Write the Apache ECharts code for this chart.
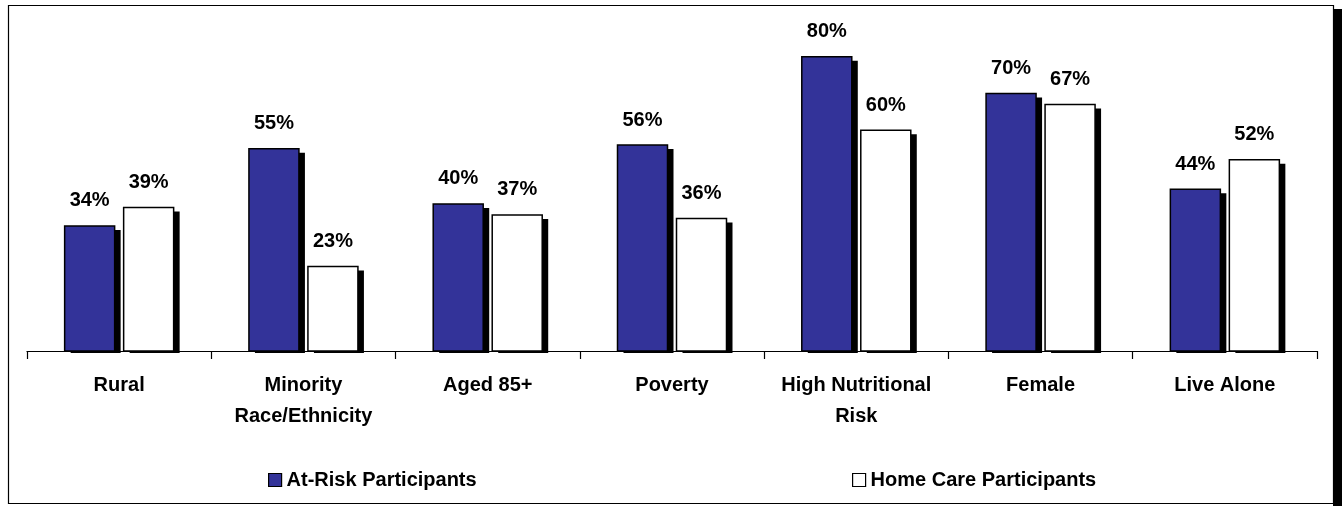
<!DOCTYPE html>
<html>
<head>
<meta charset="utf-8">
<script src="https://cdn.jsdelivr.net/npm/echarts@6/dist/echarts.min.js"></script>
<style>
html,body{margin:0;padding:0;background:#fff;}
#chart{width:1342px;height:506px;}
</style>
</head>
<body>
<div id="chart"></div>
<script>
const categories = ['Rural', 'Minority\nRace/Ethnicity', 'Aged 85+', 'Poverty', 'High Nutritional\nRisk', 'Female', 'Live Alone'];
const atRisk = [34, 55, 40, 56, 80, 70, 44];
const homeCare = [39, 23, 37, 36, 60, 67, 52];
const seriesNames = ['At-Risk Participants', 'Home Care Participants'];

const FONT = '"Liberation Sans", Arial, sans-serif';
const BAR_W = 50, BAR_GAP = 9;

const chart = echarts.init(document.getElementById('chart'));

function barSeries(name, data, color, slot) {
  return {
    name: name,
    type: 'custom',
    data: data.map((v, i) => [i, v]),
    encode: { x: 0, y: 1 },
    itemStyle: { color: color, borderColor: '#000', borderWidth: 1.5 },
    renderItem: function (params, api) {
      const idx = api.value(0);
      const val = api.value(1);
      const base = api.coord([idx, 0]);
      const top = api.coord([idx, val]);
      const groupW = BAR_W * 2 + BAR_GAP;
      const x = base[0] - groupW / 2 + slot * (BAR_W + BAR_GAP);
      const h = base[1] - top[1];
      return {
        type: 'group',
        children: [
          { type: 'rect', shape: { x: x + 6, y: top[1] + 4, width: BAR_W, height: h - 2 }, style: { fill: '#000' } },
          { type: 'rect', shape: { x: x, y: top[1], width: BAR_W, height: h }, style: { fill: color, stroke: '#000', lineWidth: 1.5 } },
          { type: 'text', style: { text: val + '%', x: x + BAR_W / 2, y: top[1] - 25, align: 'center', verticalAlign: 'middle', fill: '#000', font: 'bold 20px ' + FONT } }
        ]
      };
    },
    emphasis: { disabled: true },
    animation: false
  };
}

const legendCommon = {
  orient: 'horizontal',
  top: 470,
  padding: 0,
  itemWidth: 13,
  itemHeight: 13,
  icon: 'rect',
  textStyle: { color: '#000', fontFamily: FONT, fontWeight: 'bold', fontSize: 20 },
  itemStyle: { borderColor: '#000', borderWidth: 1.2 },
  selectedMode: false
};

chart.setOption({
  animation: false,
  backgroundColor: '#fff',
  grid: { left: 27, right: 25, top: 20, bottom: 155, containLabel: false },
  xAxis: {
    type: 'category',
    data: categories,
    axisLine: { show: true, lineStyle: { color: '#000', width: 1.2 } },
    axisTick: { show: true, length: 8, lineStyle: { color: '#000', width: 1.2 }, alignWithLabel: false },
    axisLabel: {
      color: '#000',
      fontFamily: FONT,
      fontWeight: 'bold',
      fontSize: 20,
      lineHeight: 31,
      margin: 19,
      interval: 0
    }
  },
  yAxis: {
    type: 'value',
    min: 0,
    max: 90,
    show: false,
    splitLine: { show: false }
  },
  legend: [
    Object.assign({}, legendCommon, { left: 268, data: [seriesNames[0]] }),
    Object.assign({}, legendCommon, { left: 852, data: [seriesNames[1]] })
  ],
  graphic: [
    { type: 'rect', shape: { x: 1333, y: 9, width: 9, height: 497 }, style: { fill: '#000' }, silent: true, z: 0 },
    { type: 'rect', shape: { x: 8.5, y: 5.5, width: 1325, height: 498 }, style: { fill: 'none', stroke: '#000', lineWidth: 1.2 }, silent: true, z: 0 }
  ],
  series: [
    barSeries(seriesNames[0], atRisk, '#333399', 0),
    barSeries(seriesNames[1], homeCare, '#ffffff', 1)
  ]
});
</script>
</body>
</html>
